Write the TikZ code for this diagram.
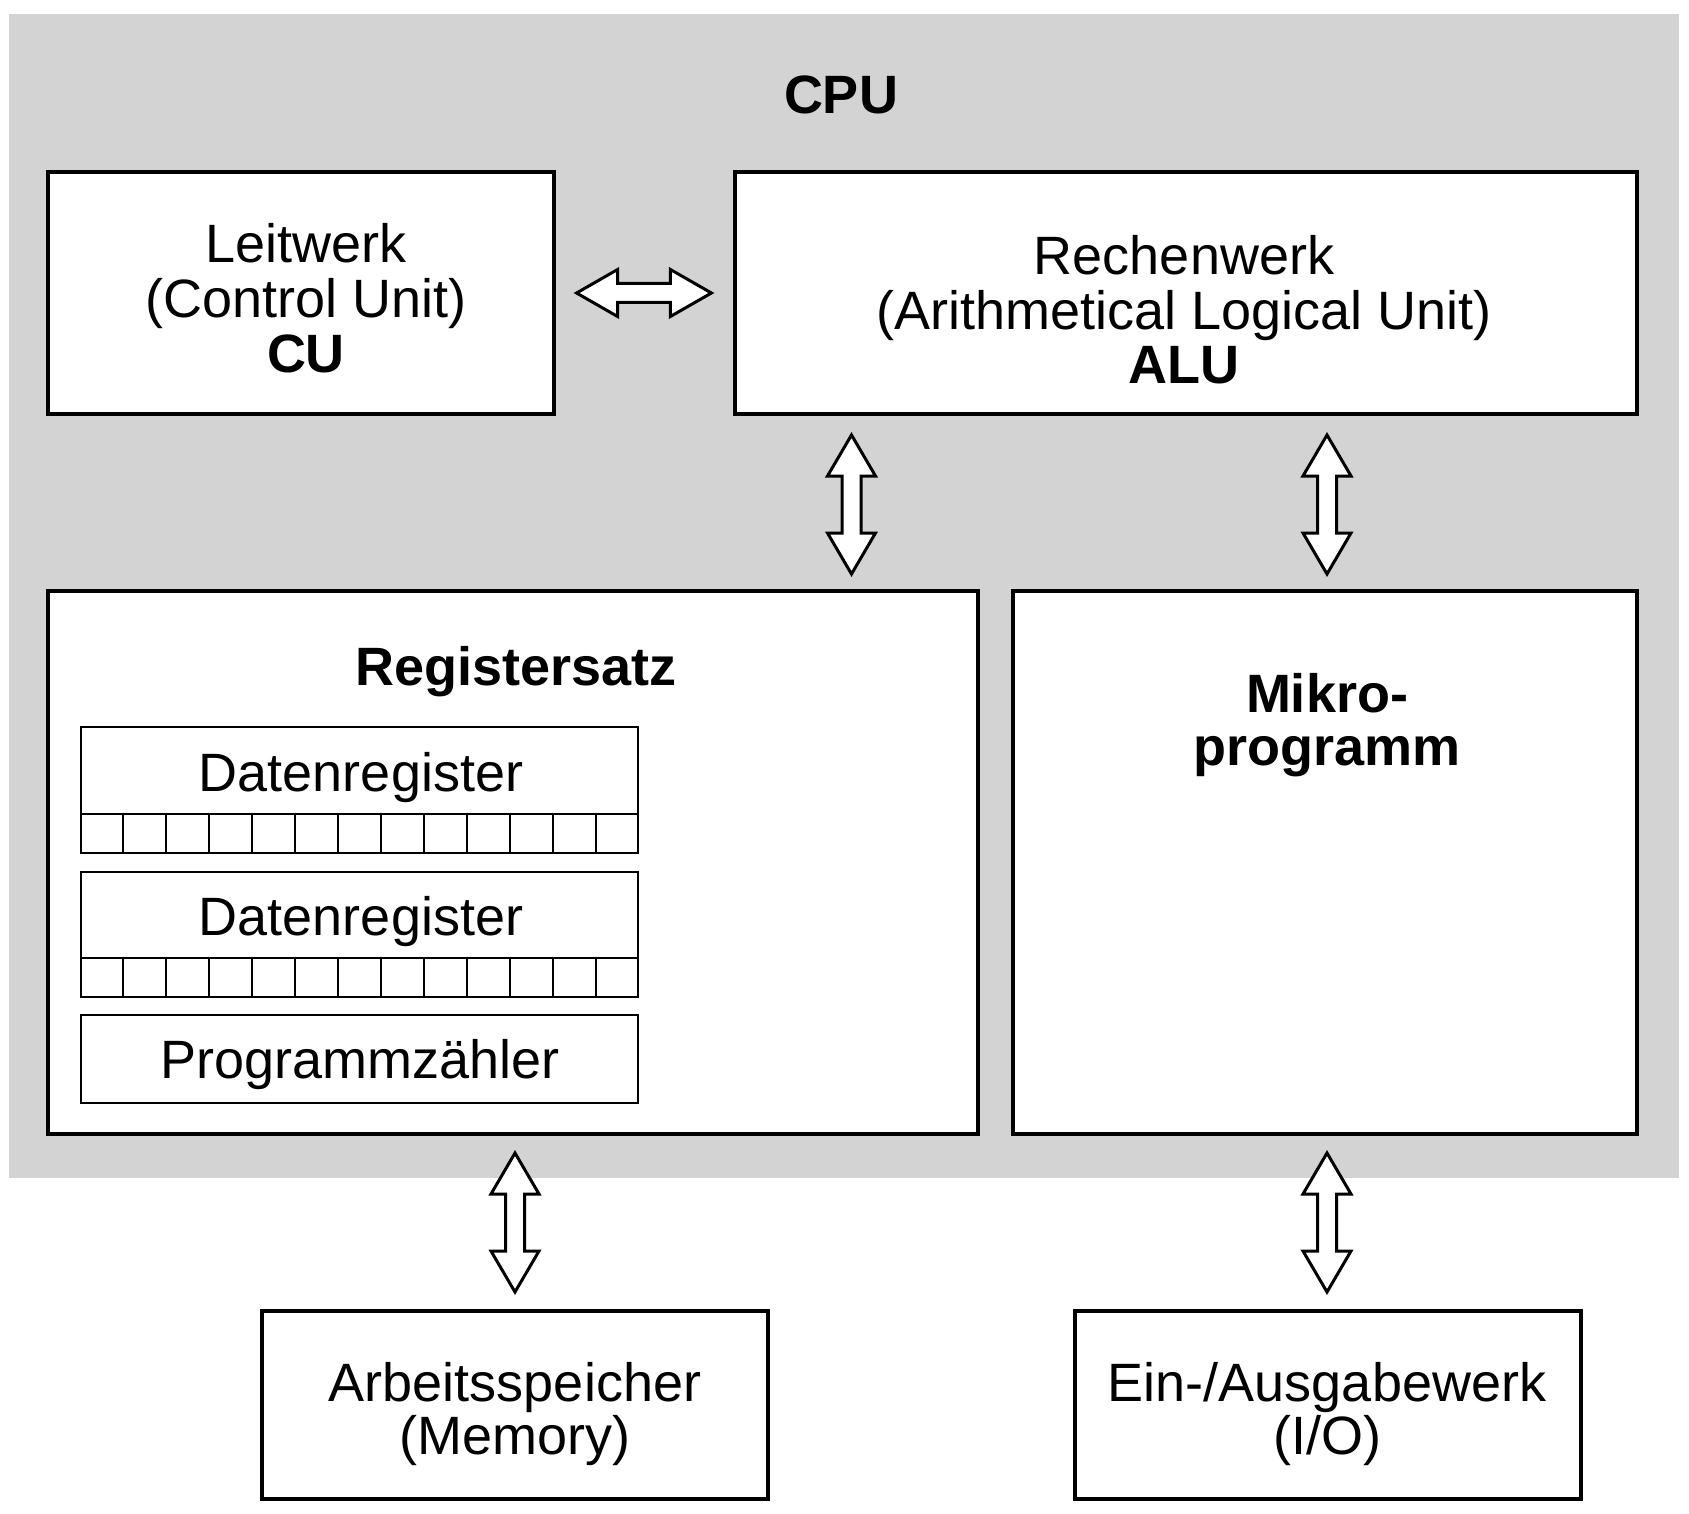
\documentclass[tikz,border=0pt]{standalone}
\usepackage{fontspec}
\setmainfont{Liberation Sans}
\usetikzlibrary{calc}
\definecolor{cpugray}{RGB}{211,211,211}
\tikzset{
  box/.style={draw=black, fill=white, line width=3.2pt, inner sep=0pt, rectangle},
  regbox/.style={draw=black, fill=white, line width=2.8pt, inner sep=0pt, rectangle, minimum width=557pt},
  cellline/.style={draw=black, line width=2pt},
  dblarrow/.style={draw=black, fill=white, line width=3pt, line join=miter},
  txt/.style={anchor=base, inner sep=0pt, font=\fontsize{54}{56}\selectfont},
  btxt/.style={txt, font=\fontsize{54}{56}\selectfont\bfseries},
}
\newcommand{\vdarrow}[2]{%
  \draw[dblarrow] let \p1=(#1), \p2=(#2) in
  (\x1,\y1) -- (\x1+24pt,\y1-41pt) -- (\x1+9.5pt,\y1-41pt) -- (\x1+9.5pt,\y2+41pt)
  -- (\x1+24pt,\y2+41pt) -- (\x1,\y2) -- (\x1-24pt,\y2+41pt) -- (\x1-9.5pt,\y2+41pt)
  -- (\x1-9.5pt,\y1-41pt) -- (\x1-24pt,\y1-41pt) -- cycle;}
\newcommand{\hdarrow}[2]{%
  \draw[dblarrow] let \p1=(#1), \p2=(#2) in
  (\x1,\y1) -- (\x1+41pt,\y1+23.5pt) -- (\x1+41pt,\y1+9.5pt) -- (\x2-41pt,\y1+9.5pt)
  -- (\x2-41pt,\y1+23.5pt) -- (\x2,\y1) -- (\x2-41pt,\y1-23.5pt) -- (\x2-41pt,\y1-9.5pt)
  -- (\x1+41pt,\y1-9.5pt) -- (\x1+41pt,\y1-23.5pt) -- cycle;}
\begin{document}
\begin{tikzpicture}[x=1pt,y=-1pt]
\useasboundingbox (0,0) rectangle (1689,1514);
\fill[white] (0,0) rectangle (1689,1514);
% CPU background
\fill[cpugray] (9,14) rectangle (1679,1178);
\node[btxt] (cpu) at (841,114) {CPU};

% main boxes
\node[box, minimum width=506pt, minimum height=242pt] (cu) at (301,293) {};
\node[box, minimum width=902pt, minimum height=242pt] (alu) at (1186,293) {};
\node[box, minimum width=930pt, minimum height=543pt] (regs) at (513,862.5) {};
\node[box, minimum width=624pt, minimum height=543pt] (mikro) at (1325,862.5) {};
\node[box, minimum width=506pt, minimum height=188pt] (mem) at (515,1405) {};
\node[box, minimum width=506pt, minimum height=188pt] (io) at (1328,1405) {};

% CU text
\node[txt] (cu1) at (306,263) {Leitwerk};
\node[txt] (cu2) at (306,317) {(Control Unit)};
\node[btxt] (cu3) at (306,372) {CU};
% ALU text
\node[txt] (alu1) at (1184,275) {Rechenwerk};
\node[txt] (alu2) at (1184,329) {(Arithmetical Logical Unit)};
\node[btxt] (alu3) at (1184,383) {ALU};

% Registersatz
\node[btxt] (regt) at (516,685) {Registersatz};
\node[regbox, minimum height=87pt] (d1) at (359.5,770.5) {};
\node[regbox, minimum height=39pt] (d1c) at (359.5,833.5) {};
\node[regbox, minimum height=86pt] (d2) at (359.5,915) {};
\node[regbox, minimum height=39pt] (d2c) at (359.5,977.5) {};
\node[regbox, minimum height=88pt] (pc) at (359.5,1059) {};
\foreach \c in {d1c,d2c}{
  \foreach \i in {1,...,12}{
    \draw[cellline] ($(\c.north west)!\i/13!(\c.north east)$) -- ($(\c.south west)!\i/13!(\c.south east)$);
  }
}
\node[txt] (d1t) at (361,791) {Datenregister};
\node[txt] (d2t) at (361,935) {Datenregister};
\node[txt] (pct) at (360,1078) {Programmzähler};

% Mikroprogramm
\node[btxt] (mk1) at (1327,712) {Mikro-};
\node[btxt] (mk2) at (1327,765) {programm};

% Memory and I/O
\node[txt] (mem1) at (515,1401) {Arbeitsspeicher};
\node[txt] (mem2) at (515,1454) {(Memory)};
\node[txt] (io1) at (1327,1401) {Ein-/Ausgabewerk};
\node[txt] (io2) at (1327,1454) {(I/O)};

% connectors
\coordinate (h1) at ([xshift=21pt]cu.east);
\coordinate (h2) at ([xshift=-22pt]alu.west);
\hdarrow{h1}{h2}
\coordinate (v1t) at (851.5,435);
\coordinate (v1b) at (851.5,574);
\vdarrow{v1t}{v1b}
\coordinate (v2t) at (1327,435);
\coordinate (v2b) at (1327,574);
\vdarrow{v2t}{v2b}
\coordinate (v3t) at (515,1153);
\coordinate (v3b) at (515,1292);
\vdarrow{v3t}{v3b}
\coordinate (v4t) at (1327,1153);
\coordinate (v4b) at (1327,1292);
\vdarrow{v4t}{v4b}
\end{tikzpicture}
\end{document}
